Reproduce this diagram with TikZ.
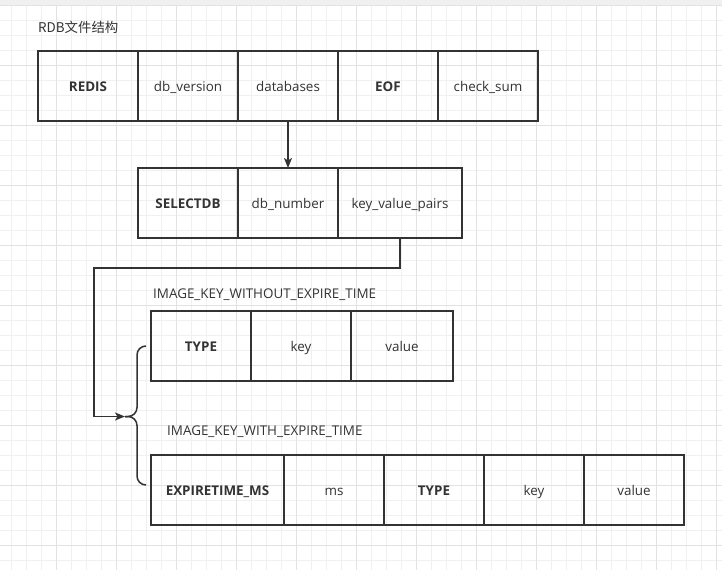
\documentclass[tikz,border=0pt]{standalone}
\usepackage{fontspec}
\setmainfont{Open Sans}
\newfontfamily\cjk{Noto Sans CJK SC}
\usetikzlibrary{arrows.meta}
\definecolor{linec}{HTML}{333333}
\definecolor{textc}{HTML}{333333}
\definecolor{gridminor}{HTML}{F0F0F0}
\definecolor{gridmajor}{HTML}{E2E2E2}
\definecolor{topband}{HTML}{F0F0F0}
\tikzset{
  cell/.style={draw=linec, line width=1.5pt, minimum height=70pt, minimum width=100pt,
    inner sep=0pt, outer sep=0pt, text=textc, text height=10pt, text depth=0pt,
    font=\fontsize{13.4}{15}\selectfont},
  boldcell/.style={cell, font=\fontsize{13.4}{15}\selectfont\bfseries},
  lbl/.style={anchor=west, inner sep=0pt, text=textc, text height=10pt, text depth=0pt,
    font=\fontsize{13.4}{15}\selectfont},
  conn/.style={draw=linec, line width=1.5pt},
  arr/.style={conn, -{Stealth[length=10pt,width=8pt,inset=2.5pt]}},
}
\begin{document}
\begin{tikzpicture}[x=1pt,y=-1pt]
\useasboundingbox (0,0) rectangle (722,570);
\fill[white] (0,0) rectangle (722,570);
% grid
\foreach \k in {0,...,47} {\draw[gridminor, line width=1pt] ({11.7+15*\k},0) -- ({11.7+15*\k},570);}
\foreach \k in {0,...,37} {\draw[gridminor, line width=1pt] (0,{5+15*\k}) -- (722,{5+15*\k});}
\foreach \k in {0,...,11} {\draw[gridmajor, line width=1pt] ({56.7+60*\k},0) -- ({56.7+60*\k},570);}
\foreach \k in {0,...,9} {\draw[gridmajor, line width=1pt] (0,{5+60*\k}) -- (722,{5+60*\k});}
\fill[topband] (0,0) rectangle (722,5);

% title
\node[lbl] (title) at (38,27) {\cjk RDB文件结构};

% row 1
\node[boldcell] (redis) at (88,86) {REDIS};
\node[cell] (dbversion) at (188,86) {db\_version};
\node[cell] (databases) at (288,86) {databases};
\node[boldcell] (eof) at (388,86) {EOF};
\node[cell] (checksum) at (488,86) {check\_sum};

% row 2
\node[boldcell] (selectdb) at (188,203) {SELECTDB};
\node[cell] (dbnumber) at (288,203) {db\_number};
\node[cell, minimum width=124pt] (kvp) at (400,203) {key\_value\_pairs};

% row 3
\node[lbl] (lblnoexp) at (153,293) {IMAGE\_KEY\_WITHOUT\_EXPIRE\_TIME};
\node[boldcell] (type1) at (201,346) {TYPE};
\node[cell] (key1) at (301,346) {key};
\node[cell, minimum width=102pt] (value1) at (402,346) {value};

% row 4
\node[lbl] (lblexp) at (167,430) {IMAGE\_KEY\_WITH\_EXPIRE\_TIME};
\node[boldcell, minimum width=133pt] (expms) at (217.5,490) {EXPIRETIME\_MS};
\node[cell] (ms) at (334,490) {ms};
\node[boldcell] (type2) at (434,490) {TYPE};
\node[cell] (key2) at (534,490) {key};
\node[cell] (value2) at (634,490) {value};

% brace
\coordinate (cusp) at (125,416.5);
\draw[conn, rounded corners=9pt] (146,346) -- (137,346) -- (137,416.5) -- (cusp);
\draw[conn, rounded corners=9pt] (cusp) -- (137,416.5) -- (137,485) -- (146,485);

% connectors
\draw[arr] (databases.south) -- (dbnumber.north);
\coordinate (corner) at (94,268);
\draw[arr] (kvp.south) |- (corner) |- (cusp);
\end{tikzpicture}
\end{document}
